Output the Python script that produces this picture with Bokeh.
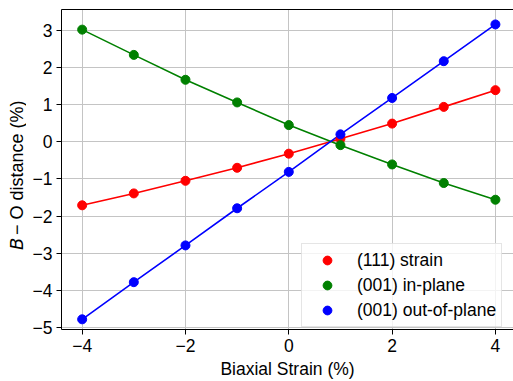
import math
from bokeh.plotting import figure
from bokeh.layouts import row
from bokeh.models import (FixedTicker, LinearAxis, Legend, LegendItem, Range1d)
from bokeh.core.properties import value
from bokeh.embed import file_html
from bokeh.resources import INLINE

strain = [-4, -3, -2, -1, 0, 1, 2, 3, 4]
s111 = [-1.71, -1.39, -1.05, -0.70, -0.32, 0.08, 0.49, 0.94, 1.39]
s001_in = [3.02, 2.34, 1.67, 1.06, 0.45, -0.09, -0.61, -1.11, -1.56]
s001_out = [-4.78, -3.78, -2.79, -1.79, -0.81, 0.20, 1.18, 2.17, 3.16]
series_names = ["(111) strain", "(001) in-plane", "(001) out-of-plane"]
series_colors = ["#ff0000", "#008000", "#0000ff"]
x_ticks = [-4, -2, 0, 2, 4]
y_ticks = [-5, -4, -3, -2, -1, 0, 1, 2, 3]
x_title = "Biaxial Strain (%)"
y_title_italic = "B"
y_title_rest = "\u2212 O distance (%)"

FONT = "Liberation Sans"
FS = "17.5px"
H = 381
LW = 26
TOP, BOTTOM = 9, 46
FRAME_BOTTOM = 331  # where the shared frame actually ends

# narrow left panel that carries the y-axis title; its frame lines up with the main one
lf = figure(width=LW, height=H, output_backend="svg", toolbar_location=None,
            x_range=Range1d(0, LW), y_range=Range1d(H - FRAME_BOTTOM, H - TOP),
            x_axis_type=None, y_axis_type=None,
            min_border_left=0, min_border_right=0, min_border_top=TOP, min_border_bottom=BOTTOM)
lf.outline_line_color = None
lf.grid.visible = False
lf.background_fill_color = "white"
lf.border_fill_color = "white"
lf.text(x=[16], y=[H - 251], text=[y_title_italic], angle=math.pi / 2,
        text_font=value("DejaVu Sans"), text_font_style="italic", text_font_size="18px",
        text_baseline="middle", text_align="left", text_color="black")
lf.text(x=[16], y=[H - 236], text=[y_title_rest], angle=math.pi / 2,
        text_font=value(FONT), text_font_size="18px",
        text_baseline="middle", text_align="left", text_color="black")

p = figure(width=513 - LW, height=H, output_backend="svg", toolbar_location=None,
           x_range=Range1d(-4.40, 4.35), y_range=Range1d(-5.054, 3.562),
           min_border_left=61 - LW, min_border_right=0, min_border_top=TOP, min_border_bottom=BOTTOM)
p.outline_line_color = None
p.background_fill_color = "white"
p.border_fill_color = "white"

renderers = []
for ys, name, col in zip([s111, s001_in, s001_out], series_names, series_colors):
    p.line(strain, ys, line_color=col, line_width=1.6)
for ys, name, col in zip([s111, s001_in, s001_out], series_names, series_colors):
    r = p.scatter(strain, ys, size=9, fill_color=col, line_color=col)
    renderers.append((name, r))

def fmt(v):
    return ("\u2212" + str(abs(v))) if v < 0 else str(v)

for ax, ticks in ((p.xaxis[0], x_ticks), (p.yaxis[0], y_ticks)):
    ax.ticker = FixedTicker(ticks=ticks)
    ax.major_label_overrides = {t: fmt(t) for t in ticks}
    ax.minor_tick_line_color = None
    ax.major_tick_in = 0
    ax.major_tick_out = 5
    ax.major_tick_line_color = "black"
    ax.axis_line_color = "black"
    ax.major_label_text_font = FONT
    ax.major_label_text_font_size = FS
    ax.major_label_text_color = "black"
    ax.major_label_standoff = 4
    ax.axis_label_text_font = FONT
    ax.axis_label_text_font_size = FS
    ax.axis_label_text_font_style = "normal"
    ax.axis_label_text_color = "black"

p.xaxis[0].axis_label = x_title
p.xaxis[0].axis_label_standoff = 4

top = LinearAxis(ticker=FixedTicker(ticks=[]), axis_line_color="black",
                 major_tick_line_color=None, minor_tick_line_color=None,
                 major_label_text_font_size="0px")
p.add_layout(top, "above")

p.xgrid.grid_line_color = "#c4c4c4"
p.ygrid.grid_line_color = "#c4c4c4"
p.xgrid.ticker = FixedTicker(ticks=x_ticks)
p.ygrid.ticker = FixedTicker(ticks=y_ticks)

legend = Legend(items=[LegendItem(label=n, renderers=[r]) for n, r in renderers],
                location=(240, 2), padding=5, spacing=3, glyph_width=40, glyph_height=22,
                label_height=22, label_standoff=10, label_text_font=FONT,
                label_text_font_size=FS, label_text_color="black",
                background_fill_color="white", background_fill_alpha=0.8,
                border_line_color="#cccccc", border_line_width=1, margin=0)
p.add_layout(legend, "center")

layout = row(lf, p, spacing=0)
open("out.html", "w").write(file_html(layout, INLINE))
